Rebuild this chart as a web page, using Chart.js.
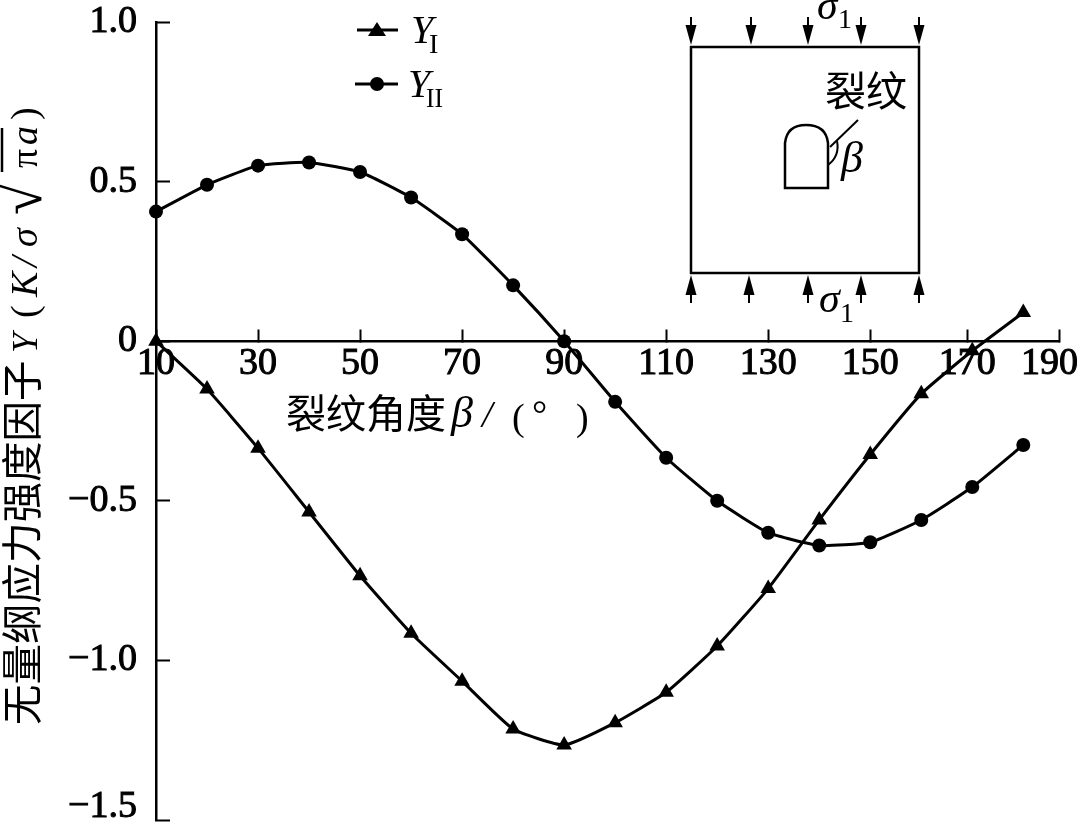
<!DOCTYPE html>
<html>
<head>
<meta charset="utf-8">
<title>裂纹角度与无量纲应力强度因子</title>
<script src="https://cdn.jsdelivr.net/npm/chart.js@4/dist/chart.umd.min.js"></script>
<style>
    html, body { margin: 0; padding: 0; background: #fff; }
    #wrap { position: relative; width: 1080px; height: 822px; overflow: hidden; }
    #chart { position: absolute; left: 0; top: 0; }
    #overlay { position: absolute; left: 0; top: 0; }
    #overlay text { fill: #000; font-family: "Liberation Serif", serif; }
    #overlay .cjk { font-family: "Noto Sans CJK SC", sans-serif; }
    #overlay .it { font-style: italic; }
</style>
</head>
<body>
<div id="wrap">
    <!-- canvas runs a little past the window: the layout keeps a few px under the y axis -->
    <canvas id="chart" width="1080" height="829"></canvas>
    <svg id="overlay" width="1080" height="822" viewBox="0 0 1080 822">
        <defs>
            <path id="down" d="M-5.5 -20 L5.5 -20 L0 0 Z" fill="#000"/>
            <path id="up" d="M-5.5 20 L5.5 20 L0 0 Z" fill="#000"/>
        </defs>

        <!-- legend -->
        <line x1="357" y1="30" x2="398" y2="30" stroke="#000" stroke-width="3"/>
        <path d="M377 22 L386 36 L368 36 Z" fill="#000"/>
        <text x="411" y="43" class="it" font-size="40">Y</text>
        <text x="429" y="53" font-size="28">I</text>
        <line x1="355" y1="84" x2="398" y2="84" stroke="#000" stroke-width="3"/>
        <circle cx="377" cy="84" r="7" fill="#000"/>
        <text x="408" y="97" class="it" font-size="40">Y</text>
        <text x="426" y="107" font-size="28" textLength="17" lengthAdjust="spacingAndGlyphs">II</text>

        <!-- loaded plate inset -->
        <rect x="691" y="47" width="228" height="226" fill="none" stroke="#000" stroke-width="2.5"/>
        <g stroke="#000" stroke-width="2">
            <line x1="691" y1="17" x2="691" y2="30"/>
            <line x1="751" y1="17" x2="751" y2="30"/>
            <line x1="808" y1="17" x2="808" y2="30"/>
            <line x1="861" y1="17" x2="861" y2="30"/>
            <line x1="919" y1="17" x2="919" y2="30"/>
            <line x1="691" y1="290" x2="691" y2="303"/>
            <line x1="749" y1="290" x2="749" y2="303"/>
            <line x1="808" y1="290" x2="808" y2="303"/>
            <line x1="861" y1="290" x2="861" y2="303"/>
            <line x1="919" y1="290" x2="919" y2="303"/>
        </g>
        <use href="#down" x="691" y="45"/>
        <use href="#down" x="751" y="45"/>
        <use href="#down" x="808" y="45"/>
        <use href="#down" x="861" y="45"/>
        <use href="#down" x="919" y="45"/>
        <use href="#up" x="691" y="275"/>
        <use href="#up" x="749" y="275"/>
        <use href="#up" x="808" y="275"/>
        <use href="#up" x="861" y="275"/>
        <use href="#up" x="919" y="275"/>
        <text x="817" y="19" class="it" font-size="42">σ</text>
        <text x="838" y="28" font-size="28">1</text>
        <text x="819" y="312" class="it" font-size="42">σ</text>
        <text x="840" y="322" font-size="28">1</text>
        <path d="M785 188 L785 143 Q787 125 806 125 Q826 125 828 143 L828 188 Z" fill="none" stroke="#000" stroke-width="2.5"/>
        <line x1="830" y1="147" x2="858" y2="120" stroke="#000" stroke-width="2"/>
        <path d="M837 141 Q840 156 828 165" fill="none" stroke="#000" stroke-width="2"/>
        <text x="841" y="172" class="it" font-size="44">β</text>
        <text x="825" y="106" class="cjk" font-size="41">裂纹</text>

        <!-- axis titles -->
        <text x="286" y="428" class="cjk" font-size="40">裂纹角度</text>
        <text x="451" y="427" class="it" font-size="44">β</text>
        <text x="482" y="427" class="it" font-size="38">/</text>
        <text x="512" y="430" font-size="38">(</text>
        <text x="532" y="427" font-size="38">°</text>
        <text x="576" y="430" font-size="38">)</text>

        <g transform="translate(37,725) rotate(-90)">
            <text x="0" y="0" class="cjk" font-size="40.5">无量纲应力强度因子</text>
            <text x="372" y="0" class="it" font-size="36">Y</text>
            <text x="407" y="0" font-size="38">(</text>
            <text x="428" y="0" class="it" font-size="38">K</text>
            <text x="458" y="0" class="it" font-size="38">/</text>
            <text x="478" y="0" class="it" font-size="38">σ</text>
            <text x="510" y="4" font-size="58">√</text>
            <line x1="553" y1="-35" x2="597" y2="-35" stroke="#000" stroke-width="2.5"/>
            <text x="557" y="0" font-size="38">π</text>
            <text x="580" y="0" class="it" font-size="38">a</text>
            <text x="605" y="0" font-size="38">)</text>
        </g>
    </svg>
</div>
<script>
const angles = [10, 20, 30, 40, 50, 60, 70, 80, 90, 100, 110, 120, 130, 140, 150, 160, 170, 180];
const yOne = [0, -0.15, -0.335, -0.535, -0.735, -0.915, -1.065, -1.215, -1.265, -1.195, -1.10, -0.955, -0.775, -0.56, -0.355, -0.165, -0.03, 0.09];
const yTwo = [0.406, 0.49, 0.55, 0.56, 0.53, 0.45, 0.335, 0.175, 0, -0.19, -0.365, -0.50, -0.60, -0.64, -0.63, -0.56, -0.457, -0.325];

// The printed axis squeezes its last two ticks, so they sit short of 170 and 190
const xTickValues = [10, 30, 50, 70, 90, 110, 130, 150, 169, 187];
const xTickLabels = ['10', '30', '50', '70', '90', '110', '130', '150', '170', '190  '];
const yTickValues = [1, 0.5, 0, -0.5, -1, -1.5];
const yTickLabels = ['1.0', '0.5', '0', '−0.5', '−1.0', ['−1.5', '']];

function toPoints(values) {
    return angles.map((a, i) => ({ x: a, y: values[i] }));
}

function lineDataset(label, values, style, radius) {
    return {
        label: label,
        data: toPoints(values),
        borderColor: '#000',
        backgroundColor: '#000',
        borderWidth: 3,
        tension: 0.15,
        pointStyle: style,
        pointRadius: radius,
        pointBackgroundColor: '#000',
        pointBorderColor: '#000',
        pointBorderWidth: 0,
        clip: false
    };
}

new Chart(document.getElementById('chart'), {
    type: 'line',
    data: {
        datasets: [
            lineDataset('YI', yOne, 'triangle', 9),
            lineDataset('YII', yTwo, 'circle', 7)
        ]
    },
    options: {
        responsive: false,
        animation: false,
        layout: { padding: { left: 0, top: 22, right: 21, bottom: 2 } },
        plugins: {
            legend: { display: false },
            title: { display: false },
            tooltip: { enabled: false }
        },
        scales: {
            x: {
                type: 'linear',
                position: { y: 0 },
                min: 10,
                max: 187,
                afterBuildTicks: (scale) => {
                    scale.ticks = xTickValues.map(v => ({ value: v }));
                },
                afterFit: (scale) => {
                    scale.paddingLeft = 0;
                    scale.paddingRight = 0;
                    scale.height = 0;
                },
                grid: { drawOnChartArea: false, tickLength: -13, tickWidth: 2, tickColor: '#000' },
                border: { color: '#000', width: 2.5 },
                ticks: {
                    autoSkip: false,
                    maxRotation: 0,
                    padding: 13,
                    color: '#000',
                    textStrokeColor: '#000',
                    textStrokeWidth: 1,
                    font: { family: '"Liberation Serif", serif', size: 38 },
                    callback: (value, index) => xTickLabels[index]
                }
            },
            y: {
                type: 'linear',
                position: 'left',
                min: -1.5,
                max: 1,
                afterBuildTicks: (scale) => {
                    scale.ticks = yTickValues.map(v => ({ value: v }));
                },
                afterFit: (scale) => {
                    scale.width = 156;
                    scale.paddingTop = 0;
                    scale.paddingBottom = 0;
                },
                grid: { drawOnChartArea: false, tickLength: -14, tickWidth: 2, tickColor: '#000' },
                border: { color: '#000', width: 2.5 },
                ticks: {
                    autoSkip: false,
                    padding: 33,
                    color: '#000',
                    textStrokeColor: '#000',
                    textStrokeWidth: 1,
                    font: { family: '"Liberation Serif", serif', size: 38, lineHeight: 0.7 },
                    callback: (value, index) => yTickLabels[index]
                }
            }
        }
    }
});
</script>
</body>
</html>
